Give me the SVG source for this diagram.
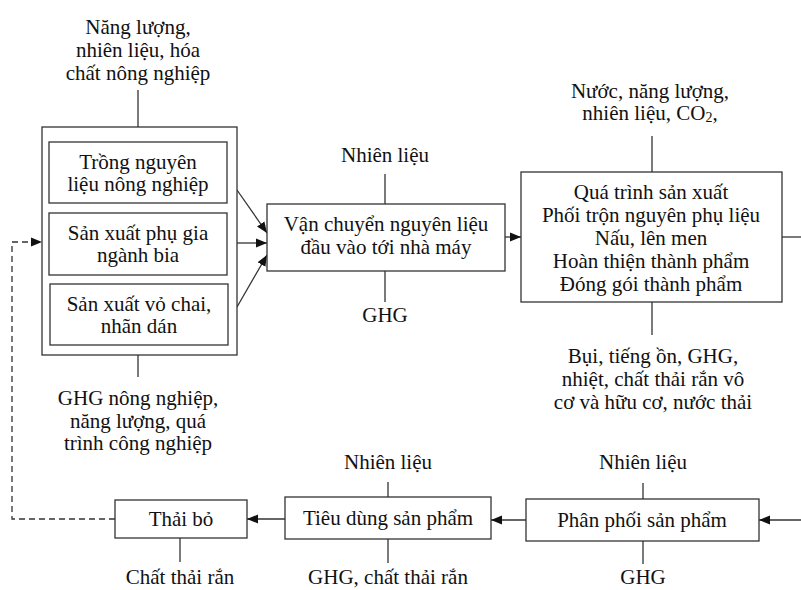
<svg xmlns="http://www.w3.org/2000/svg" width="801" height="590" viewBox="0 0 801 590">
<style>
text{font-family:"Liberation Serif","Times New Roman",serif;font-size:21px;fill:#111;text-anchor:middle}
.box{fill:#fff;stroke:#333;stroke-width:1.3}
.ln{stroke:#333;stroke-width:1.3;fill:none}
.dash{stroke:#333;stroke-width:1.3;fill:none;stroke-dasharray:6 4}
</style>
<defs>
<marker id="ah" markerUnits="userSpaceOnUse" markerWidth="12" markerHeight="10" refX="11" refY="5" orient="auto">
<path d="M0,0.5 L11,5 L0,9.5 z" fill="#111"/>
</marker>
</defs>
<rect width="801" height="590" fill="#fff"/>

<g id="connectors">
<line class="ln" x1="138" y1="90" x2="138" y2="127"/>
<line class="ln" x1="138" y1="355" x2="138" y2="377"/>
<line class="ln" x1="237" y1="190" x2="267" y2="233" marker-end="url(#ah)"/>
<line class="ln" x1="237" y1="243" x2="267" y2="243" marker-end="url(#ah)"/>
<line class="ln" x1="237" y1="307" x2="267" y2="255" marker-end="url(#ah)"/>
<line class="ln" x1="385" y1="174" x2="385" y2="204"/>
<line class="ln" x1="385" y1="271" x2="385" y2="302"/>
<line class="ln" x1="505" y1="237" x2="521" y2="237" marker-end="url(#ah)"/>
<line class="ln" x1="652" y1="136" x2="652" y2="172"/>
<line class="ln" x1="652" y1="302" x2="652" y2="335"/>
<line class="ln" x1="782" y1="237" x2="801" y2="237"/>
<line class="ln" x1="801" y1="520" x2="759" y2="520" marker-end="url(#ah)"/>
<line class="ln" x1="526" y1="520" x2="491" y2="520" marker-end="url(#ah)"/>
<line class="ln" x1="285" y1="519" x2="247" y2="519" marker-end="url(#ah)"/>
<polyline class="dash" points="115,519 12,519 12,242 42,242" marker-end="url(#ah)"/>
<line class="ln" x1="180" y1="538" x2="180" y2="562"/>
<line class="ln" x1="388" y1="482" x2="388" y2="497"/>
<line class="ln" x1="388" y1="539" x2="388" y2="563"/>
<line class="ln" x1="643" y1="483" x2="643" y2="499"/>
<line class="ln" x1="643" y1="541" x2="643" y2="564"/>
</g>

<g id="label-inputs-agri">
<text x="138" y="34">Năng lượng,</text>
<text x="138" y="57">nhiên liệu, hóa</text>
<text x="138" y="80">chất nông nghiệp</text>
</g>

<g id="upstream">
<rect class="box" x="42" y="127" width="195" height="228"/>
<g id="n-trong">
<rect class="box" x="49" y="142" width="178" height="61"/>
<text x="138" y="169">Trồng nguyên</text>
<text x="138" y="191">liệu nông nghiệp</text>
</g>
<g id="n-phugia">
<rect class="box" x="49" y="213" width="178" height="62"/>
<text x="138" y="240">Sản xuất phụ gia</text>
<text x="138" y="262">ngành bia</text>
</g>
<g id="n-vochai">
<rect class="box" x="50" y="284" width="178" height="61"/>
<text x="139" y="311">Sản xuất vỏ chai,</text>
<text x="139" y="333">nhãn dán</text>
</g>
</g>

<g id="label-outputs-agri">
<text x="138" y="405">GHG nông nghiệp,</text>
<text x="138" y="428">năng lượng, quá</text>
<text x="138" y="450">trình công nghiệp</text>
</g>

<g id="n-vanchuyen">
<rect class="box" x="267" y="204" width="238" height="67"/>
<text x="386" y="231">Vận chuyển nguyên liệu</text>
<text x="386" y="254">đầu vào tới nhà máy</text>
</g>
<text x="385" y="162">Nhiên liệu</text>
<text x="385" y="322">GHG</text>

<g id="n-sanxuat">
<rect class="box" x="521" y="172" width="261" height="130"/>
<text x="651" y="199">Quá trình sản xuất</text>
<text x="651" y="222">Phối trộn nguyên phụ liệu</text>
<text x="651" y="245">Nấu, lên men</text>
<text x="651" y="268">Hoàn thiện thành phẩm</text>
<text x="651" y="291">Đóng gói thành phẩm</text>
</g>
<text x="650" y="98">Nước, năng lượng,</text>
<text x="650" y="120">nhiên liệu, CO<tspan font-size="14" dy="2">2</tspan><tspan dy="-2">,</tspan></text>
<text x="653" y="363">Bụi, tiếng ồn, GHG,</text>
<text x="653" y="386">nhiệt, chất thải rắn vô</text>
<text x="653" y="409">cơ và hữu cơ, nước thải</text>

<g id="n-thaibo">
<rect class="box" x="115" y="500" width="132" height="38"/>
<text x="181" y="526">Thải bỏ</text>
</g>
<text x="180" y="584">Chất thải rắn</text>

<g id="n-tieudung">
<rect class="box" x="285" y="497" width="206" height="42"/>
<text x="388" y="525">Tiêu dùng sản phẩm</text>
</g>
<text x="388" y="469">Nhiên liệu</text>
<text x="388" y="584">GHG, chất thải rắn</text>

<g id="n-phanphoi">
<rect class="box" x="526" y="499" width="233" height="42"/>
<text x="642" y="527">Phân phối sản phẩm</text>
</g>
<text x="643" y="469">Nhiên liệu</text>
<text x="643" y="584">GHG</text>
</svg>
